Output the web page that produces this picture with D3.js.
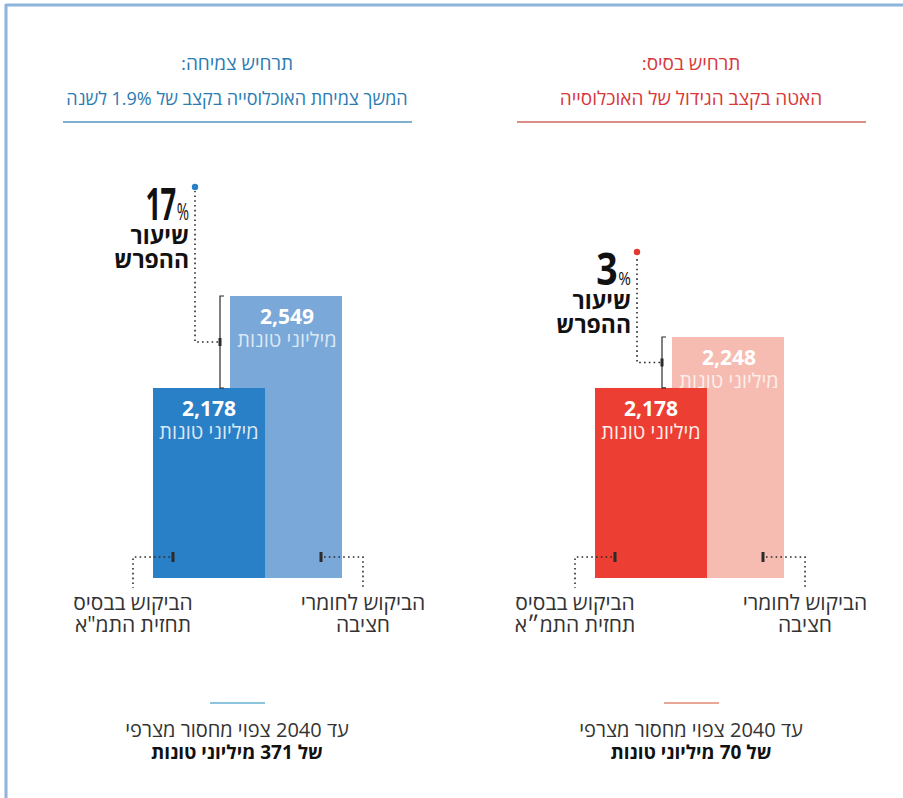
<!DOCTYPE html>
<html lang="he">
<head>
<meta charset="UTF-8">
<title>מחסור בחומרי חציבה</title>
<style>
  body { margin: 0; background: #fff; }
  svg text { font-family: "Open Sans", "Liberation Sans", "DejaVu Sans", sans-serif; }
</style>
</head>
<body>
<svg width="903" height="798"></svg>
<script src="https://d3js.org/d3.v7.min.js"></script>
<script>

// left panel = growth scenario, right panel = base scenario
var panelTitles = ["תרחיש צמיחה:", "תרחיש בסיס:"];
var panelSubtitles = ["המשך צמיחת האוכלוסייה בקצב של 1.9% לשנה", "האטה בקצב הגידול של האוכלוסייה"];
var forecastDemand = [2178, 2178];   // הביקוש בבסיס תחזית התמ"א
var quarryDemand = [2549, 2248];     // הביקוש לחומרי חציבה
var gapPercent = [17, 3];
var shortage = [371, 70];
var unitLabel = "מיליוני טונות";
var gapLabel = ["שיעור", "ההפרש"];
var forecastLabel = [["הביקוש בבסיס", "תחזית התמ\"א"], ["הביקוש בבסיס", "תחזית התמ״א"]];
var quarryLabel = ["הביקוש לחומרי", "חציבה"];
var footerLine1 = "עד 2040 צפוי מחסור מצרפי";
var footerLine2 = ["של 371 מיליוני טונות", "של 70 מיליוני טונות"];

var colors = [
  {title: "#2b7bb3", rule: "#7fb0cf", dark: "#2a80c6", light: "#7aa8d8", dot: "#2a80c6", foot: "#8cc3dd", sub: "#dbe8f5"},
  {title: "#d8383a", rule: "#d98e86", dark: "#ec3e32", light: "#f6bcb2", dot: "#e23a30", foot: "#e8a898", sub: "#fdeeea"}
];

var svg = d3.select("svg");

// frame
svg.append("line").attr("x1", 6).attr("x2", 903).attr("y1", 5).attr("y2", 5)
  .attr("stroke", "#8db4da").attr("stroke-width", 3);
svg.append("line").attr("x1", 6).attr("x2", 6).attr("y1", 4).attr("y2", 798)
  .attr("stroke", "#8db4da").attr("stroke-width", 3);

var textCenters = [237, 691];
var barOffsets = [0, 442];
var bottomY = 578;
// the published graphic is not drawn to a zero baseline; each panel has its own scale
var yScales = [
  d3.scaleLinear().domain([1412, quarryDemand[0]]).range([bottomY, 296]),
  d3.scaleLinear().domain([1917, quarryDemand[1]]).range([bottomY, 337])
];
var barWidth = 112;
var xDark = 153, xLight = 230;
var fmt = d3.format(",");
var ink = "#2b2b2b";

function dotted(g, pts) {
  g.append("path")
    .attr("d", d3.line()(pts))
    .attr("fill", "none")
    .attr("stroke", ink)
    .attr("stroke-width", 1.6)
    .attr("stroke-dasharray", "1.6,3.2");
}

// multi-line text block, one <text> with a tspan per line
function lines(g, x, y, rows, step, attrs) {
  var t = g.append("text").attr("x", x).attr("y", y).attr("direction", "rtl");
  Object.keys(attrs).forEach(function(k) { t.attr(k, attrs[k]); });
  rows.forEach(function(r, k) {
    var s = t.append("tspan").attr("x", x).attr("y", y + k * step).text(r.text || r);
    if (r.style) Object.keys(r.style).forEach(function(a) { s.attr(a, r.style[a]); });
  });
  return t;
}

[0, 1].forEach(function(i) {
  var c = colors[i];
  var cx = textCenters[i];

  // header
  var head = svg.append("g");
  lines(head, cx, 70, [
    {text: panelTitles[i], style: {"font-size": 19}},
    {text: panelSubtitles[i], style: {"font-size": i === 0 ? 18 : 19}}
  ], 35, {"text-anchor": "middle", fill: c.title});
  head.append("line").attr("x1", cx - 174).attr("x2", cx + 175).attr("y1", 122).attr("y2", 122)
    .attr("stroke", c.rule).attr("stroke-width", 2);

  // bars
  var y = yScales[i];
  var g = svg.append("g").attr("transform", "translate(" + barOffsets[i] + ",0)");
  var bars = [
    {v: quarryDemand[i], x: xLight, fill: c.light},
    {v: forecastDemand[i], x: xDark, fill: c.dark}
  ];
  g.selectAll("rect").data(bars).enter().append("rect")
    .attr("x", function(d) { return d.x; })
    .attr("y", function(d) { return y(d.v); })
    .attr("width", barWidth)
    .attr("height", function(d) { return bottomY - y(d.v); })
    .attr("fill", function(d) { return d.fill; });

  // value labels
  var labX = [xLight + 57, xDark + 56];
  bars.forEach(function(d, k) {
    lines(g, labX[k], y(d.v) + 28, [
      {text: fmt(d.v), style: {"font-size": 21, "font-weight": "bold", fill: "#fff"}},
      {text: unitLabel, style: {"font-size": 20, fill: c.sub}}
    ], 23, {"text-anchor": "middle"});
  });

  // gap bracket
  var bx = xLight - 10;
  var yTop = y(quarryDemand[i]), yBot = y(forecastDemand[i]);
  var yMid = (yTop + yBot) / 2;
  g.append("path")
    .attr("d", "M" + (bx + 4) + "," + yTop + "H" + bx + "V" + yBot + "H" + (bx + 4))
    .attr("fill", "none").attr("stroke", ink).attr("stroke-width", 1.2);
  g.append("rect").attr("x", bx - 1.5).attr("y", yMid - 4).attr("width", 3).attr("height", 8).attr("fill", ink);
  var dotX = bx - 25;
  var dotY = i === 0 ? 187 : 252;
  dotted(g, [[bx - 2, yMid], [dotX, yMid], [dotX, dotY + 4]]);
  g.append("circle").attr("cx", dotX).attr("cy", dotY).attr("r", 3.2).attr("fill", c.dot);

  // gap percentage: condensed numeral with a small percent sign
  var pct = g.append("g")
    .attr("transform", "translate(" + (dotX - 6) + "," + (dotY + 33) + ") scale(" + (i === 0 ? 0.62 : 0.85) + ",1)")
    .append("text").attr("text-anchor", "end").attr("fill", "#111")
    .attr("font-family", "'Liberation Sans', 'DejaVu Sans', sans-serif");
  pct.append("tspan").attr("font-size", 44).attr("font-weight", "bold").attr("letter-spacing", -1).text(gapPercent[i]);
  pct.append("tspan").attr("font-size", i === 0 ? 24 : 18).attr("dx", 2).text("%");
  lines(g, dotX - 6, dotY + 57, gapLabel, 24,
    {"text-anchor": "start", "font-size": 23, "font-weight": "bold", fill: "#111"});

  // bottom callouts
  var ly = 557;
  var leftTick = xDark + 20, leftEnd = xDark - 20;
  var rightTick = xLight + 91, rightEnd = xLight + 133;
  g.append("rect").attr("x", leftTick - 1.5).attr("y", ly - 5).attr("width", 3).attr("height", 10).attr("fill", ink);
  g.append("rect").attr("x", rightTick - 1.5).attr("y", ly - 5).attr("width", 3).attr("height", 10).attr("fill", ink);
  dotted(g, [[leftTick - 3, ly], [leftEnd, ly], [leftEnd, 588]]);
  dotted(g, [[rightTick + 3, ly], [rightEnd, ly], [rightEnd, 588]]);
  lines(g, leftEnd, 610, forecastLabel[i], 22, {"text-anchor": "middle", "font-size": 21, fill: "#333"});
  lines(g, rightEnd, 610, quarryLabel, 22, {"text-anchor": "middle", "font-size": 21, fill: "#333"});

  // footer
  svg.append("line").attr("x1", cx - 27).attr("x2", cx + 28).attr("y1", 703).attr("y2", 703)
    .attr("stroke", c.foot).attr("stroke-width", 2);
  lines(svg, cx, 737, [
    {text: footerLine1, style: {"font-size": 20, fill: "#333"}},
    {text: footerLine2[i], style: {"font-size": 19, "font-weight": "bold", fill: "#111"}}
  ], 22, {"text-anchor": "middle"});
});
</script>
</body>
</html>
